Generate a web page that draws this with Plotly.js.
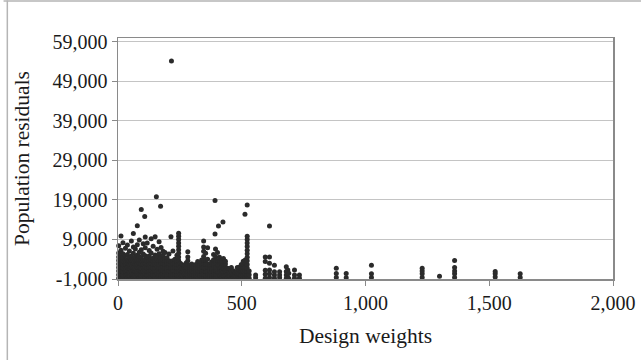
<!DOCTYPE html>
<html>
<head>
<meta charset="utf-8">
<script src="https://cdn.plot.ly/plotly-3.0.1.min.js"></script>
<style>html,body{margin:0;padding:0;background:#fff;}#chart{width:641px;height:360px;}</style>
</head>
<body>
<div id="chart"></div>
<script>
// Design weights (x) and population residuals (y), one column per line
const weights = [
3,3,3,3,3,3,3,3,3,
12,12,12,12,12,12,12,12,12,
20,20,20,20,20,20,20,20,20,
30,30,30,30,30,30,30,30,
38,38,38,38,38,38,38,38,
46,46,46,46,46,46,46,46,
54,54,54,54,54,54,54,54,
62,62,62,62,62,62,62,62,62,
70,70,70,70,70,70,70,70,
78,78,78,78,78,78,78,78,78,
86,86,86,86,86,86,86,86,86,
94,94,94,94,94,94,94,94,94,
102,102,102,102,102,102,102,102,
108,
110,110,110,110,110,110,110,110,110,
118,118,118,118,118,118,118,118,
126,126,126,126,126,126,126,126,
134,134,134,134,134,134,134,134,
142,142,142,142,142,142,142,142,
150,150,150,150,150,150,150,150,
155,
158,158,158,158,158,158,158,158,
166,166,166,166,166,166,166,166,
172,
174,174,174,174,174,174,174,174,
182,182,182,182,182,182,182,182,
190,190,190,190,190,190,190,190,
198,198,198,198,198,198,198,
206,206,206,206,206,206,206,
214,214,214,214,214,214,214,
216,
222,222,222,222,222,222,222,
230,230,230,230,230,230,
238,238,238,238,238,238,238,
245,245,245,245,245,245,245,245,245,245,245,245,245,245,
252,252,252,252,252,
260,260,260,260,260,
268,268,268,268,268,
276,276,276,276,276,
282,282,282,282,282,282,282,282,
290,290,290,290,290,
298,298,298,298,298,
306,306,306,306,306,
314,314,314,314,314,
322,322,322,322,322,322,
330,330,330,330,330,
338,338,338,338,338,338,
346,346,346,346,346,346,346,346,346,346,
354,354,354,354,354,354,354,
362,362,362,362,362,362,362,
370,370,370,370,370,
378,378,378,378,378,378,
386,386,386,386,386,386,386,
392,392,
394,394,394,394,394,394,394,394,
402,402,402,402,402,402,402,
406,
410,410,410,410,410,410,410,
418,418,418,418,418,418,
424,
426,426,426,426,426,426,
434,434,434,434,434,434,
442,442,442,442,
450,450,450,450,
458,458,458,458,
466,466,466,
474,474,474,
482,482,482,482,
490,490,490,490,
498,498,498,498,498,
506,506,506,506,506,506,
513,
514,514,514,514,514,514,
522,522,522,522,522,522,522,522,522,522,522,522,522,522,
530,530,530,
556,556,
595,595,595,595,595,
612,612,612,612,612,612,
632,632,632,632,
653,653,653,
680,680,680,680,
686,686,686,
690,690,
713,713,713,
733,733,
882,882,882,
922,922,
1024,1024,1024,
1229,1229,1229,1229,
1299,
1360,1360,1360,1360,1360,
1524,1524,1524,
1625,1625
];
const residuals = [
-800,100,1000,1900,2800,3700,4600,5600,7400,
-700,200,1100,2000,2900,3800,4700,6300,9900,
-900,0,900,1800,2700,3600,4500,5400,8200,
-800,100,1000,1900,2800,3700,4900,6800,
-700,200,1100,2000,2900,3800,5200,7600,
-900,0,900,1800,2700,3600,4400,6100,
-800,100,1000,1900,2800,3700,4800,8600,
-700,200,1100,2000,2900,3800,5500,7100,10500,
-900,0,900,1800,2700,3600,4600,6600,
-800,100,1000,1900,2800,3700,5000,7700,12500,
-700,200,1100,2000,2900,3800,4700,5800,8900,
-900,0,900,1800,2700,3600,4400,6400,16600,
-800,100,1000,1900,2800,3700,5300,7900,
14800,
-700,200,1100,2000,2900,3800,4900,6900,9600,
-900,0,900,1800,2700,3600,4500,8100,
-800,100,1000,1900,2800,3700,4800,6200,
-700,200,1100,2000,2900,3800,5600,9200,
-900,0,900,1800,2700,3600,4300,7300,
-800,100,1000,1900,2800,3700,5100,9700,
19800,
-700,200,1100,2000,2900,3800,4700,6500,
-900,0,900,1800,2700,3600,5400,8400,
17400,
-800,100,1000,1900,2800,3700,4600,7000,
-700,200,1100,2000,2900,3800,5000,6000,
-900,0,900,1800,2700,3600,4200,5700,
-800,100,1000,1900,2800,3700,4400,
-700,200,1100,2000,2900,3600,5300,
-900,0,900,1800,2700,3500,9700,
54200,
-800,100,1000,1900,2800,3600,6100,
-700,200,1100,2000,2900,4000,
-900,0,900,1800,2700,3400,5000,
-800,100,1000,1900,2800,3700,4600,5500,6400,7300,8100,9000,9800,10600,
-700,200,1100,2000,3000,
-900,0,900,1800,2600,
-800,100,1000,1900,2500,
-700,200,1100,2000,3100,
-900,0,900,1800,2700,3600,4600,5900,
-800,100,1000,1900,2400,
-700,200,1100,2000,2800,
-900,0,900,1800,2300,
-800,100,1000,1900,2700,
-700,200,1100,2000,2600,3400,
-900,0,900,1800,2500,
-800,100,1000,1900,2800,3800,
-700,200,1100,2000,2900,3800,4700,6000,7100,8600,
-900,0,900,1800,2700,3700,5500,
-800,100,1000,1900,2800,4000,6900,
-700,200,1100,2000,2600,
-900,0,900,1800,2700,3300,
-800,100,1000,1900,2800,3900,5200,
10400,18900,
-700,200,1100,2000,2900,3800,4700,6600,
-900,0,900,1800,2700,3600,5700,
12400,
-800,100,1000,1900,2800,3700,4500,
-700,200,1100,2000,2900,3600,
13400,
-900,0,900,1800,2700,4200,
-800,100,1000,1900,2800,3500,
-700,200,1100,1700,
-900,0,900,1600,
-800,100,1000,1900,
-700,200,1100,
-900,0,700,
-800,100,1000,1900,
-700,200,1100,2000,
-900,0,900,1800,2700,
-800,100,1000,1900,2800,3500,
15400,
-700,200,1100,2000,2900,3800,
-900,0,900,1800,2700,3600,4500,5400,6300,7200,8100,9000,9800,17700,
-800,100,1000,
-700,0,
-800,200,1200,3400,4600,
-700,300,1300,3000,4600,12400,
-800,0,850,2500,
-700,0,850,
-800,0,900,2100,
-700,300,1300,
-900,440,
-800,0,1300,
-800,10,
-600,400,1700,
-700,400,
-600,300,2500,
-600,300,1000,1700,
-300,
-600,300,1000,1900,3700,
-500,300,900,
-600,300
];
const yTicks = [-1000, 9000, 19000, 29000, 39000, 49000, 59000];
const yTickText = ['-1,000', '9,000', '19,000', '29,000', '39,000', '49,000', '59,000'];
const xTicks = [0, 500, 1000, 1500, 2000];
const xTickText = ['0', '500', '1,000', '1,500', '2,000'];

const fam = '"Liberation Serif", "Times New Roman", serif';
const font = {family: fam, size: 20, color: '#1a1a1a'};
const titleFont = {family: fam, size: 21.5, color: '#1a1a1a'};

const trace = {
  type: 'scatter', mode: 'markers',
  x: weights, y: residuals,
  marker: {size: 5, color: '#2b2b2b', line: {width: 0}},
  cliponaxis: false, hoverinfo: 'skip'
};

const layout = {
  width: 641, height: 360,
  margin: {l: 118, r: 28, t: 38, b: 81},
  paper_bgcolor: '#ffffff', plot_bgcolor: '#ffffff',
  font: font,
  showlegend: false,
  xaxis: {
    range: [0, 2000], tickvals: xTicks, ticktext: xTickText,
    showgrid: false, zeroline: false,
    showline: true, linecolor: '#8a8a8a', linewidth: 1.5, mirror: true,
    ticks: 'outside', ticklen: 5, tickcolor: '#8a8a8a',
    tickfont: font,
    title: {text: 'Design weights', font: titleFont, standoff: 15}
  },
  yaxis: {
    range: [-1000, 60000], tickvals: yTicks, ticktext: yTickText,
    showgrid: true, gridcolor: '#c4c4c4', gridwidth: 1, zeroline: false,
    showline: true, linecolor: '#8a8a8a', linewidth: 1.5, mirror: true,
    ticks: 'outside', ticklen: 5, tickcolor: '#8a8a8a',
    tickfont: font,
    title: {text: 'Population residuals', font: titleFont, standoff: 17}
  },
  shapes: [
    {type: 'line', xref: 'paper', yref: 'paper', x0: -0.2312, x1: 1.06, y0: 1.1535, y1: 1.1535, line: {color: '#b5b5b5', width: 1.5}},
    {type: 'line', xref: 'paper', yref: 'paper', x0: -0.2236, x1: -0.2236, y0: 1.156, y1: -0.34, line: {color: '#b5b5b5', width: 1.5}}
  ]
};

Plotly.newPlot('chart', [trace], layout, {displayModeBar: false, staticPlot: true});
</script>
</body>
</html>
